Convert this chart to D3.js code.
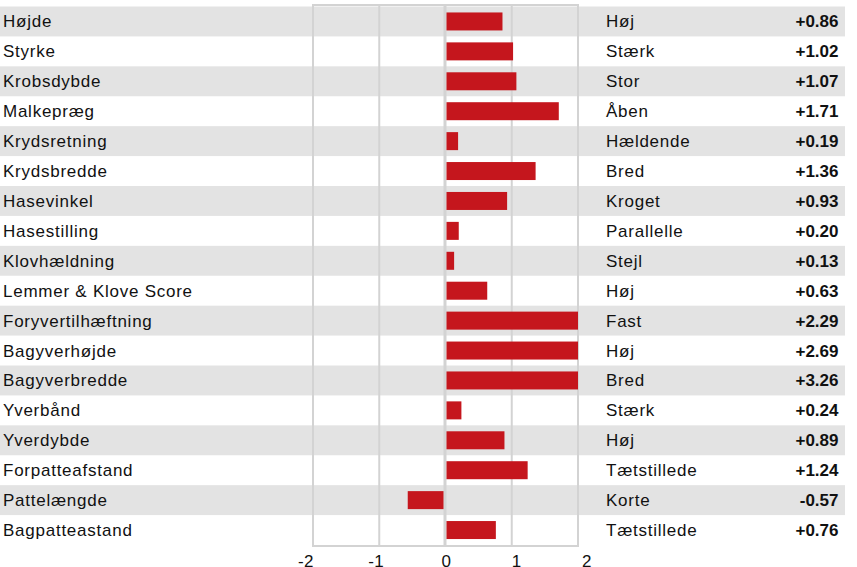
<!DOCTYPE html>
<html>
<head>
<meta charset="utf-8">
<script src="https://cdn.jsdelivr.net/npm/d3@7"></script>
<style>
  body { margin: 0; background: #fff; }
  svg { display: block; font-family: "Liberation Sans", Arial, sans-serif; }
</style>
</head>
<body>
<svg></svg>
<script>
var width = 857;
var height = 567;

var traits = ["Højde", "Styrke", "Krobsdybde", "Malkepræg", "Krydsretning", "Krydsbredde",
  "Hasevinkel", "Hasestilling", "Klovhældning", "Lemmer & Klove Score", "Foryvertilhæftning",
  "Bagyverhøjde", "Bagyverbredde", "Yverbånd", "Yverdybde", "Forpatteafstand", "Pattelængde",
  "Bagpatteastand"];
var descriptors = ["Høj", "Stærk", "Stor", "Åben", "Hældende", "Bred", "Kroget", "Parallelle",
  "Stejl", "Høj", "Fast", "Høj", "Bred", "Stærk", "Høj", "Tætstillede", "Korte", "Tætstillede"];
var values = [0.86, 1.02, 1.07, 1.71, 0.19, 1.36, 0.93, 0.20, 0.13, 0.63, 2.29, 2.69, 3.26,
  0.24, 0.89, 1.24, -0.57, 0.76];
var ticks = [-2, -1, 0, 1, 2];

var svg = d3.select("svg").attr("width", width).attr("height", height);

var x = d3.scaleLinear().domain([-2, 2]).range([313, 578]);
var xLabel = d3.scaleLinear().domain([-2, 2]).range([306, 587]);
var y = d3.scaleBand().domain(d3.range(traits.length)).range([6.5, 545]);

// striped rows
svg.append("g").selectAll("rect").data(traits)
  .enter().append("rect")
  .attr("x", 0)
  .attr("y", function(d, i){ return y(i); })
  .attr("width", 845)
  .attr("height", y.bandwidth())
  .attr("fill", function(d, i){ return i % 2 == 0 ? "#e3e3e3" : "none"; });

// frame + grid
svg.append("rect")
  .attr("x", x(-2)).attr("y", 5)
  .attr("width", x(2) - x(-2)).attr("height", 541)
  .attr("fill", "none").attr("stroke", "#d3d3d3").attr("stroke-width", 2);

svg.append("g").selectAll("line").data([-1, 0, 1])
  .enter().append("line")
  .attr("x1", function(d){ return d == 0 ? x(d) - 0.5 : x(d); })
  .attr("x2", function(d){ return d == 0 ? x(d) - 0.5 : x(d); })
  .attr("y1", 5).attr("y2", 546)
  .attr("stroke", "#d3d3d3")
  .attr("stroke-width", function(d){ return d == 0 ? 3 : 2; });

// bars (clamped to the axis range)
var barH = 18;
svg.append("g").selectAll("rect").data(values)
  .enter().append("rect")
  .attr("x", function(d){ return d < 0 ? x(Math.max(d, -2)) : x(0) + 1; })
  .attr("y", function(d, i){ return y(i) + (y.bandwidth() - barH) / 2; })
  .attr("width", function(d){
    var v = Math.max(-2, Math.min(2, d));
    return d < 0 ? x(0) - 2 - x(v) : x(v) - x(0) - 1;
  })
  .attr("height", barH)
  .attr("fill", "#c5161d");

// texts
var mid = function(d, i){ return y(i) + y.bandwidth() / 2 + 6; };

svg.append("g").selectAll("text").data(traits)
  .enter().append("text")
  .attr("x", 3).attr("y", mid)
  .attr("font-size", 17).attr("letter-spacing", 0.75).attr("fill", "#111")
  .text(function(d){ return d; });

svg.append("g").selectAll("text").data(descriptors)
  .enter().append("text")
  .attr("x", 606).attr("y", mid)
  .attr("font-size", 17).attr("letter-spacing", 0.75).attr("fill", "#111")
  .text(function(d){ return d; });

svg.append("g").selectAll("text").data(values)
  .enter().append("text")
  .attr("x", 838.5).attr("y", mid)
  .attr("text-anchor", "end")
  .attr("font-size", 17).attr("font-weight", "bold").attr("fill", "#111")
  .text(function(d){ return (d >= 0 ? "+" : "") + d.toFixed(2); });

svg.append("g").selectAll("text").data(ticks)
  .enter().append("text")
  .attr("x", function(d){ return xLabel(d); })
  .attr("y", 567)
  .attr("text-anchor", "middle")
  .attr("font-size", 17).attr("letter-spacing", 0.5).attr("fill", "#111")
  .text(function(d){ return d; });
</script>
</body>
</html>
